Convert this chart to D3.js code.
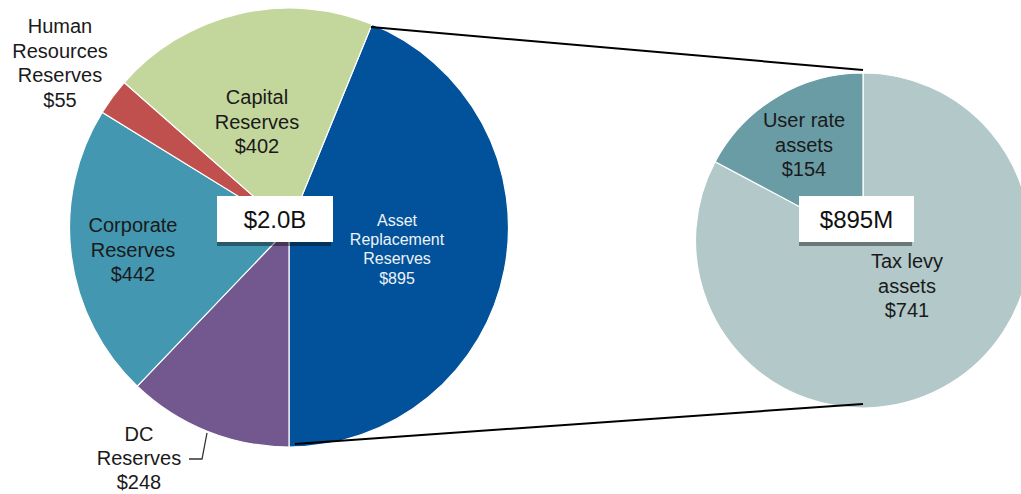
<!DOCTYPE html>
<html>
<head>
<meta charset="utf-8">
<script src="https://cdn.jsdelivr.net/npm/d3@7"></script>
<style>
  html, body { margin: 0; padding: 0; background: #fff; }
  svg { display: block; font-family: "Liberation Sans", Arial, sans-serif; }
</style>
</head>
<body>
<svg id="chart" width="1021" height="494"></svg>
<script>
// Reserve balances ($M), drawn clockwise starting after Capital Reserves
const reserveNames  = ["Asset Replacement Reserves", "DC Reserves", "Corporate Reserves", "Human Resources Reserves", "Capital Reserves"];
const reserveValues = [895, 248, 442, 55, 402];
const reserveLines  = [["Asset", "Replacement", "Reserves"], ["DC", "Reserves"], ["Corporate", "Reserves"], ["Human", "Resources", "Reserves"], ["Capital", "Reserves"]];
const reserveColors = ["#02529b", "#72588e", "#4397b0", "#c0504d", "#c3d69b"];
const reserveTotalLabel = "$2.0B";

// Breakdown of the Asset Replacement Reserves ($M)
const assetNames  = ["Tax levy assets", "User rate assets"];
const assetValues = [741, 154];
const assetLines  = [["Tax levy", "assets"], ["User rate", "assets"]];
const assetColors = ["#b2c8c9", "#6a9ca6"];
const assetTotalLabel = "$895M";

const svg = d3.select("#chart");

// Geometry of the two pies
const main = { cx: 289, cy: 227.5, r: 219.5 };
const side = { cx: 863, cy: 240.5, r: 167.5 };

// The Asset Replacement wedge ends at the bottom of the main pie
const totalReserves = d3.sum(reserveValues);
const mainStart = Math.PI - 2 * Math.PI * reserveValues[0] / totalReserves;

const mainPie = d3.pie().sort(null).value(d => d)
  .startAngle(mainStart).endAngle(mainStart + 2 * Math.PI);
const sidePie = d3.pie().sort(null).value(d => d)
  .startAngle(0).endAngle(2 * Math.PI);

const mainArcs = mainPie(reserveValues);
const sideArcs = sidePie(assetValues);

const mainArc = d3.arc().innerRadius(0).outerRadius(main.r);
const sideArc = d3.arc().innerRadius(0).outerRadius(side.r);

const gMain = svg.append("g").attr("transform", `translate(${main.cx},${main.cy})`);
gMain.selectAll("path").data(mainArcs).join("path")
  .attr("d", mainArc)
  .attr("fill", (d, i) => reserveColors[i])
  .attr("stroke", "#ffffff")
  .attr("stroke-width", 1.2);

const gSide = svg.append("g").attr("transform", `translate(${side.cx},${side.cy})`);
gSide.selectAll("path").data(sideArcs).join("path")
  .attr("d", sideArc)
  .attr("fill", (d, i) => assetColors[i])
  .attr("stroke", "#ffffff")
  .attr("stroke-width", 1.2);

// Connector lines from the Asset Replacement wedge to the breakdown pie
const polar = (c, a, rr) => [c.cx + rr * Math.sin(a), c.cy - rr * Math.cos(a)];
const assetArc = mainArcs[0];
const topFrom = polar(main, assetArc.startAngle, main.r - 3);
const botFrom = polar(main, assetArc.endAngle - 0.027, main.r - 3);
const topTo = [side.cx, side.cy - side.r - 3];
const botTo = [side.cx, side.cy + side.r - 4];
svg.append("line")
  .attr("x1", topFrom[0]).attr("y1", topFrom[1]).attr("x2", topTo[0]).attr("y2", topTo[1])
  .attr("stroke", "#000").attr("stroke-width", 2);
svg.append("line")
  .attr("x1", botFrom[0]).attr("y1", botFrom[1]).attr("x2", botTo[0]).attr("y2", botTo[1])
  .attr("stroke", "#000").attr("stroke-width", 2);

// Label placement: [x of text centre, baseline of first line, line step, font size, colour]
const reserveLabelLayout = [
  [397, 226, 19.2, 16, "#eef2f8"],
  [139, 441, 24, 20, "#1a1a1a"],
  [133, 232, 24.5, 20, "#1a1a1a"],
  [60, 33, 24.6, 20, "#1a1a1a"],
  [257, 104, 24.5, 20, "#1a1a1a"]
];
const assetLabelLayout = [
  [907, 268, 24.5, 20, "#1a1a1a"],
  [804, 127, 24.5, 20, "#1a1a1a"]
];

function drawLabel(lines, value, layout) {
  const [x, y, step, size, color] = layout;
  const t = svg.append("text")
    .attr("text-anchor", "middle")
    .attr("font-size", size)
    .attr("fill", color);
  lines.concat(["$" + value]).forEach((s, i) => {
    t.append("tspan").attr("x", x).attr("y", y + i * step).text(s);
  });
}
reserveValues.forEach((v, i) => drawLabel(reserveLines[i], v, reserveLabelLayout[i]));
assetValues.forEach((v, i) => drawLabel(assetLines[i], v, assetLabelLayout[i]));

// Leader line for the DC Reserves label
svg.append("polyline")
  .attr("points", "207,433 202,459 189,459")
  .attr("fill", "none").attr("stroke", "#333").attr("stroke-width", 1.3);

// Total boxes with a soft drop shadow
function totalBox(x, y, w, h, text) {
  svg.append("rect").attr("x", x).attr("y", y + 4).attr("width", w - 2).attr("height", h)
    .attr("fill", "#000").attr("opacity", 0.4);
  svg.append("rect").attr("x", x).attr("y", y).attr("width", w).attr("height", h)
    .attr("fill", "#ffffff");
  svg.append("text").attr("x", x + w / 2).attr("y", y + h / 2 + 8.5)
    .attr("text-anchor", "middle").attr("font-size", 24).attr("fill", "#111")
    .text(text);
}
totalBox(217, 196, 116, 46, reserveTotalLabel);
totalBox(799, 196, 115, 46, assetTotalLabel);
</script>
</body>
</html>
